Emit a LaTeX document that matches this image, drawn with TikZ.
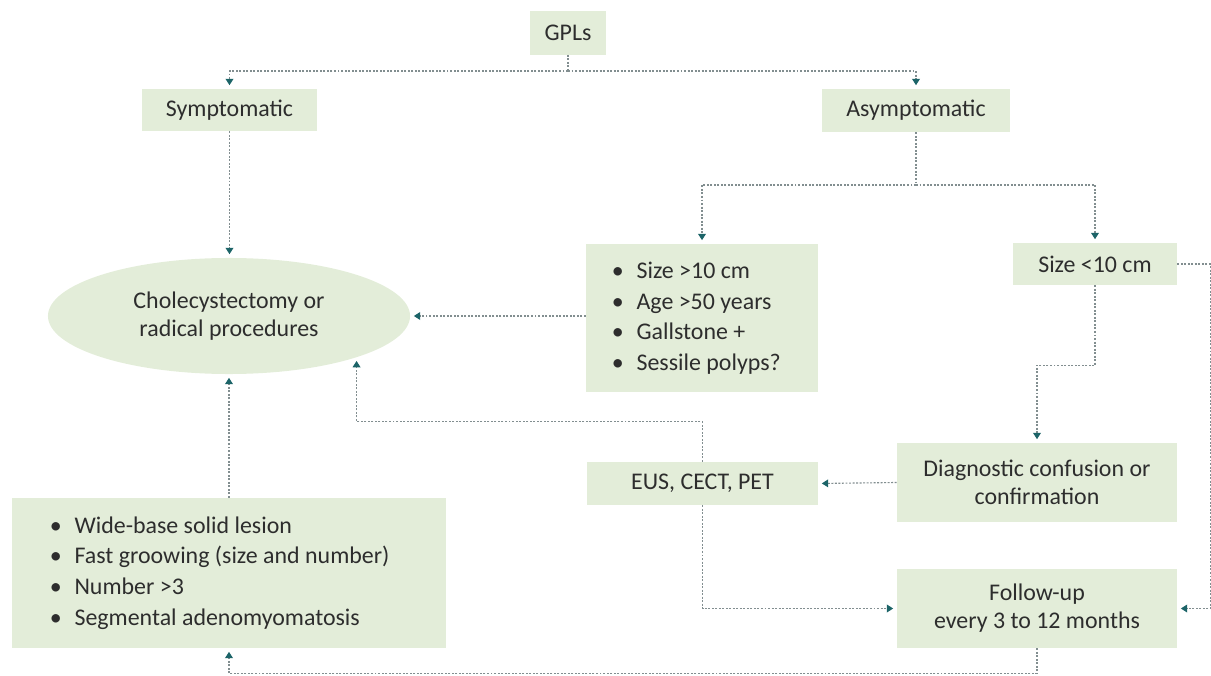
\documentclass[tikz,border=0pt]{standalone}
\usepackage{fontspec}
\setmainfont{Carlito}
\usepackage{xcolor}
\usepackage{tikz}
\usetikzlibrary{arrows.meta,positioning,shapes.geometric}

\definecolor{boxgreen}{RGB}{227,237,217}
\definecolor{tipteal}{RGB}{28,100,104}
\definecolor{linegray}{RGB}{130,142,144}
\definecolor{txtgray}{RGB}{45,45,45}

\newcommand{\bul}{\makebox[17.5pt][l]{\textbullet}}

\begin{document}
\begin{tikzpicture}[x=0.025cm,y=-0.025cm,
  every node/.style={font=\fontsize{17}{20}\selectfont, text=txtgray},
  box/.style={fill=boxgreen, inner sep=0pt, align=center},
  listbox/.style={fill=boxgreen, inner ysep=0pt, align=flush left,
    font=\fontsize{17}{21.7}\selectfont},
  link/.style={draw=linegray, line width=0.8pt, dash pattern=on 1.4pt off 1.1pt},
  arrow/.style={link, -{Triangle[width=5.5pt,length=4.5pt,color=tipteal]}, shorten >=2.5pt}]
\useasboundingbox (0,0) rectangle (1211,676);
% ----- top level -----
\node[box, minimum width=1.875cm, minimum height=1.075cm] (gpl) at (568,33) {GPLs};
\node[box, minimum width=4.375cm, minimum height=1.05cm] (sym) at (229.5,110) {Symptomatic};
\node[box, minimum width=4.7cm, minimum height=1.075cm] (asym) at (916,110.5) {Asymptomatic};
% ----- surgery -----
\node[ellipse, fill=boxgreen, inner sep=0pt, align=center, minimum width=9.05cm,
  minimum height=2.9cm] (surg) at (229,316) {Cholecystectomy or\\radical procedures};
% ----- asymptomatic branch -----
\node[listbox, inner xsep=0.65cm, text width=4.5cm, minimum height=3.7cm] (crit) at (702,318)
  {\bul Size >10 cm\\ \bul Age >50 years\\ \bul Gallstone +\\ \bul Sessile polyps?};
\node[box, minimum width=4.1cm, minimum height=1.05cm] (small) at (1095,264) {Size <10 cm};
\node[box, minimum width=7cm, minimum height=1.975cm] (diag) at (1037,482.5)
  {Diagnostic confusion or\\confirmation};
\node[box, minimum width=5.775cm, minimum height=1.075cm] (eus) at (702.5,483.5) {EUS, CECT, PET};
\node[box, minimum width=7cm, minimum height=1.975cm] (follow) at (1037,608.5)
  {Follow-up\\every 3 to 12 months};
% ----- risk factors -----
\node[listbox, inner xsep=0.95cm, text width=8.95cm, minimum height=3.75cm] (risk) at (229,573)
  {\bul Wide-base solid lesion\\ \bul Fast groowing (size and number)\\ \bul Number >3\\ \bul Segmental adenomyomatosis};
% ----- connectors -----
\coordinate (j1) at (568,71);
\coordinate (j2) at (916,185);
\draw[link] (gpl.south) -- (j1);
\draw[arrow] (j1) -| (sym.north);
\draw[arrow] (j1) -| (asym.north);
\draw[arrow] (sym.south) -- (sym.south |- surg.north);
\draw[link] (asym.south) -- (j2);
\draw[arrow] (j2) -| (crit.north);
\draw[arrow] (j2) -| (small.north);
\draw[arrow] (crit.west |- surg.east) -- (surg.east);
\draw[arrow] (small.east) -- ++(33,0) |- (follow.east);
\draw[arrow] (small.south) -- ++(0,80) -| (diag.north);
\draw[arrow] (diag.west) -- (eus.east);
\draw[arrow] (eus.north) -- ++(0,-40) -| (surg.-18);
\draw[arrow] (eus.south) |- (follow.west);
\draw[arrow] (risk.north) -- (surg.south);
\draw[arrow] (follow.south) -- ++(0,25) -| (risk.south);
\end{tikzpicture}
\end{document}
